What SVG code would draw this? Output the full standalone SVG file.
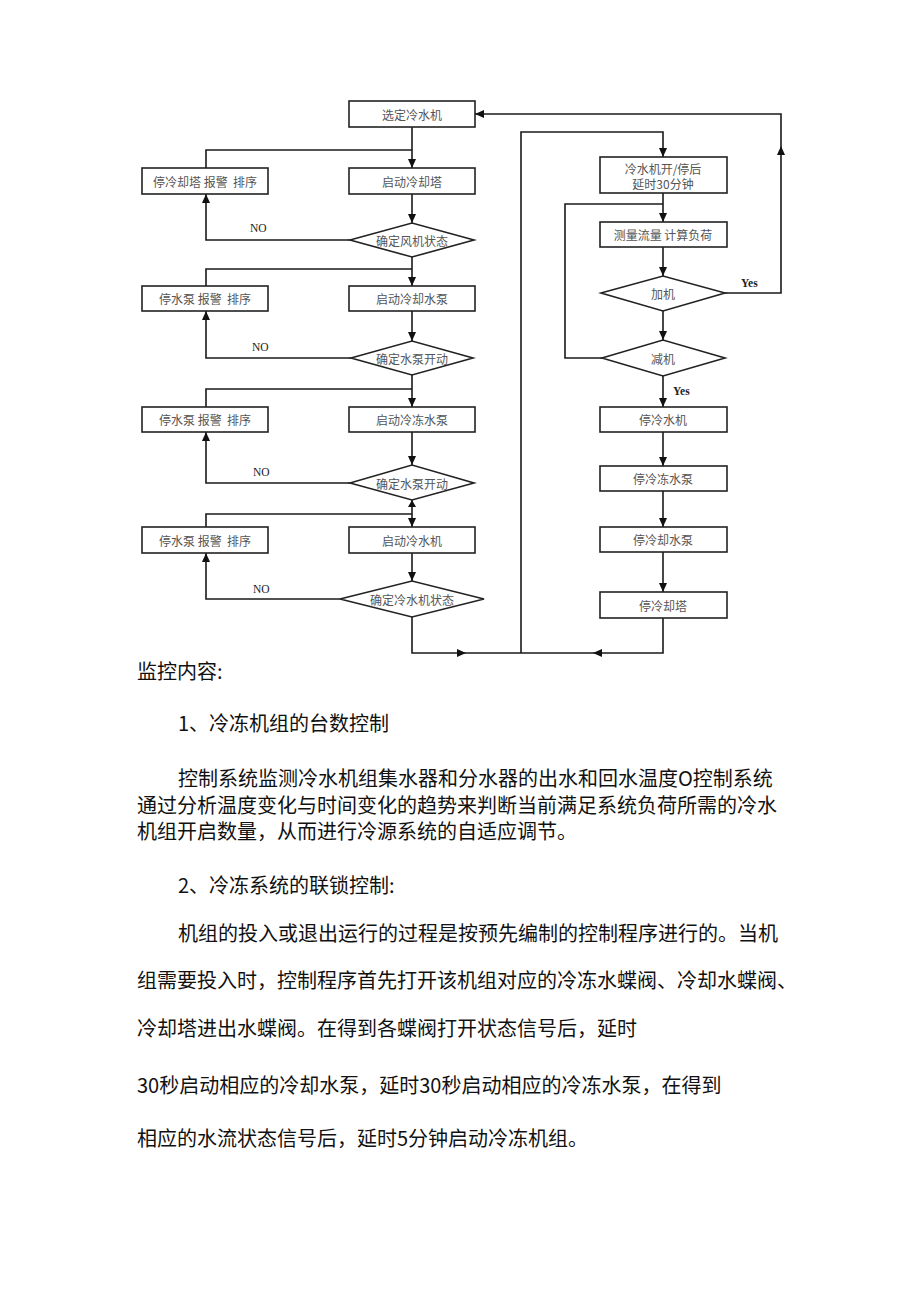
<svg xmlns="http://www.w3.org/2000/svg" width="920" height="1301" viewBox="0 0 920 1301">
<style>
.box{fill:#fff;stroke:#222;stroke-width:1.6}
.ft{font-family:"Noto Sans CJK SC","Noto Sans",sans-serif;font-size:12px;fill:#555;text-anchor:middle;dominant-baseline:central}
.lbl{font-family:"Liberation Serif",serif;font-size:11.5px;fill:#222;dominant-baseline:central}
.cn{stroke:#1a1a1a;stroke-width:1.6;fill:none}
.body{font-family:"Noto Sans CJK SC","Noto Sans",sans-serif;font-size:20px;fill:#111}
</style>
<defs>
<marker id="ah" markerWidth="10" markerHeight="10" refX="9" refY="5" orient="auto" markerUnits="userSpaceOnUse">
<path d="M0,1 L9,5 L0,9 z" fill="#111"/>
</marker>
</defs>
<rect width="920" height="1301" fill="#fff"/>

<g id="connectors">
<path class="cn" d="M412,127 V168" marker-end="url(#ah)"/>
<path class="cn" d="M206,168 V150 H412"/>
<path class="cn" d="M412,194 V223" marker-end="url(#ah)"/>
<path class="cn" d="M350,240 H206 V194" marker-end="url(#ah)"/>
<path class="cn" d="M412,257 V286" marker-end="url(#ah)"/>
<path class="cn" d="M206,286 V269 H412"/>
<path class="cn" d="M412,311 V341" marker-end="url(#ah)"/>
<path class="cn" d="M351,358 H206 V311" marker-end="url(#ah)"/>
<path class="cn" d="M412,375 V407" marker-end="url(#ah)"/>
<path class="cn" d="M206,407 V389 H412"/>
<path class="cn" d="M412,432 V465" marker-end="url(#ah)"/>
<path class="cn" d="M350,483 H206 V432" marker-end="url(#ah)"/>
<path class="cn" d="M412,500 V527" marker-end="url(#ah)"/>
<polygon points="412,500 408,507 416,507" fill="#111"/>
<path class="cn" d="M206,527 V514 H412"/>
<path class="cn" d="M412,553 V581" marker-end="url(#ah)"/>
<path class="cn" d="M340,599 H206 V553" marker-end="url(#ah)"/>
<path class="cn" d="M412,617 V653 H466" marker-end="url(#ah)"/>
<path class="cn" d="M466,653 H521"/>
<path class="cn" d="M663,618 V653 H593" marker-end="url(#ah)"/>
<path class="cn" d="M593,653 H521"/>
<path class="cn" d="M521,653 V132 H663 V157" marker-end="url(#ah)"/>
<path class="cn" d="M663,193 V222" marker-end="url(#ah)"/>
<path class="cn" d="M602,358 H565 V204 H663"/>
<path class="cn" d="M663,247 V276" marker-end="url(#ah)"/>
<path class="cn" d="M725,293 H781 V146" marker-end="url(#ah)"/>
<path class="cn" d="M781,146 V114 H475" marker-end="url(#ah)"/>
<path class="cn" d="M663,311 V340" marker-end="url(#ah)"/>
<path class="cn" d="M663,376 V407" marker-end="url(#ah)"/>
<path class="cn" d="M663,432 V466" marker-end="url(#ah)"/>
<path class="cn" d="M663,491 V527" marker-end="url(#ah)"/>
<path class="cn" d="M663,552 V592" marker-end="url(#ah)"/>
<text class="lbl" x="250" y="228">NO</text>
<text class="lbl" x="252" y="347">NO</text>
<text class="lbl" x="253" y="472">NO</text>
<text class="lbl" x="253" y="589">NO</text>
<text class="lbl" x="741" y="283" font-weight="bold">Yes</text>
<text class="lbl" x="673" y="391" font-weight="bold">Yes</text>
</g>

<g id="n1"><rect class="box" x="349" y="101" width="126" height="26"/><text class="ft" x="412" y="114">选定冷水机</text></g>
<g id="n2"><rect class="box" x="349" y="168" width="126" height="26"/><text class="ft" x="412" y="181">启动冷却塔</text></g>
<g id="n3"><rect class="box" x="142" y="168" width="126" height="26"/><text class="ft" x="205" y="181" xml:space="preserve">停冷却塔 报警  排序</text></g>
<g id="d1"><polygon class="box" points="350,240 412,223 474,240 412,257"/><text class="ft" x="412" y="240">确定风机状态</text></g>
<g id="n4"><rect class="box" x="349" y="286" width="126" height="25"/><text class="ft" x="412" y="298.5">启动冷却水泵</text></g>
<g id="n5"><rect class="box" x="142" y="286" width="126" height="25"/><text class="ft" x="205" y="298.5" xml:space="preserve">停水泵 报警  排序</text></g>
<g id="d2"><polygon class="box" points="351,358 412,341 473,358 412,375"/><text class="ft" x="412" y="358">确定水泵开动</text></g>
<g id="n6"><rect class="box" x="349" y="407" width="126" height="25"/><text class="ft" x="412" y="419.5">启动冷冻水泵</text></g>
<g id="n7"><rect class="box" x="142" y="407" width="126" height="25"/><text class="ft" x="205" y="419.5" xml:space="preserve">停水泵 报警  排序</text></g>
<g id="d3"><polygon class="box" points="350,483 412,465 474,483 412,500"/><text class="ft" x="412" y="483">确定水泵开动</text></g>
<g id="n8"><rect class="box" x="349" y="527" width="126" height="26"/><text class="ft" x="412" y="540">启动冷水机</text></g>
<g id="n9"><rect class="box" x="142" y="527" width="126" height="26"/><text class="ft" x="205" y="540" xml:space="preserve">停水泵 报警  排序</text></g>
<g id="d4"><polygon class="box" points="340,599 412,581 484,599 412,617"/><text class="ft" x="412" y="599">确定冷水机状态</text></g>

<g id="r1"><rect class="box" x="600" y="157" width="127" height="36"/><text class="ft" x="663" y="168">冷水机开/停后</text><text class="ft" x="663" y="183">延时30分钟</text></g>
<g id="r2"><rect class="box" x="600" y="222" width="127" height="25"/><text class="ft" x="663" y="234.5">测量流量 计算负荷</text></g>
<g id="r3"><polygon class="box" points="601,293 663,276 725,293 663,311"/><text class="ft" x="663" y="293">加机</text></g>
<g id="r4"><polygon class="box" points="602,358 663,340 725,358 663,376"/><text class="ft" x="663" y="358">减机</text></g>
<g id="r5"><rect class="box" x="600" y="407" width="127" height="25"/><text class="ft" x="663" y="419.5">停冷水机</text></g>
<g id="r6"><rect class="box" x="600" y="466" width="127" height="25"/><text class="ft" x="663" y="478.5">停冷冻水泵</text></g>
<g id="r7"><rect class="box" x="600" y="527" width="127" height="25"/><text class="ft" x="663" y="539.5">停冷却水泵</text></g>
<g id="r8"><rect class="box" x="600" y="592" width="127" height="26"/><text class="ft" x="663" y="605">停冷却塔</text></g>

<g id="text">
<text class="body" x="137" y="679">监控内容:</text>
<text class="body" x="178" y="731">1、冷冻机组的台数控制</text>
<text class="body" x="178" y="786">控制系统监测冷水机组集水器和分水器的出水和回水温度O控制系统</text>
<text class="body" x="137" y="813">通过分析温度变化与时间变化的趋势来判断当前满足系统负荷所需的冷水</text>
<text class="body" x="137" y="839">机组开启数量，从而进行冷源系统的自适应调节。</text>
<text class="body" x="178" y="893">2、冷冻系统的联锁控制:</text>
<text class="body" x="178" y="941">机组的投入或退出运行的过程是按预先编制的控制程序进行的。当机</text>
<text class="body" x="137" y="988">组需要投入时，控制程序首先打开该机组对应的冷冻水蝶阀、冷却水蝶阀、</text>
<text class="body" x="137" y="1036">冷却塔进出水蝶阀。在得到各蝶阀打开状态信号后，延时</text>
<text class="body" x="137" y="1093">30秒启动相应的冷却水泵，延时30秒启动相应的冷冻水泵，在得到</text>
<text class="body" x="137" y="1146">相应的水流状态信号后，延时5分钟启动冷冻机组。</text>
</g>
</svg>
